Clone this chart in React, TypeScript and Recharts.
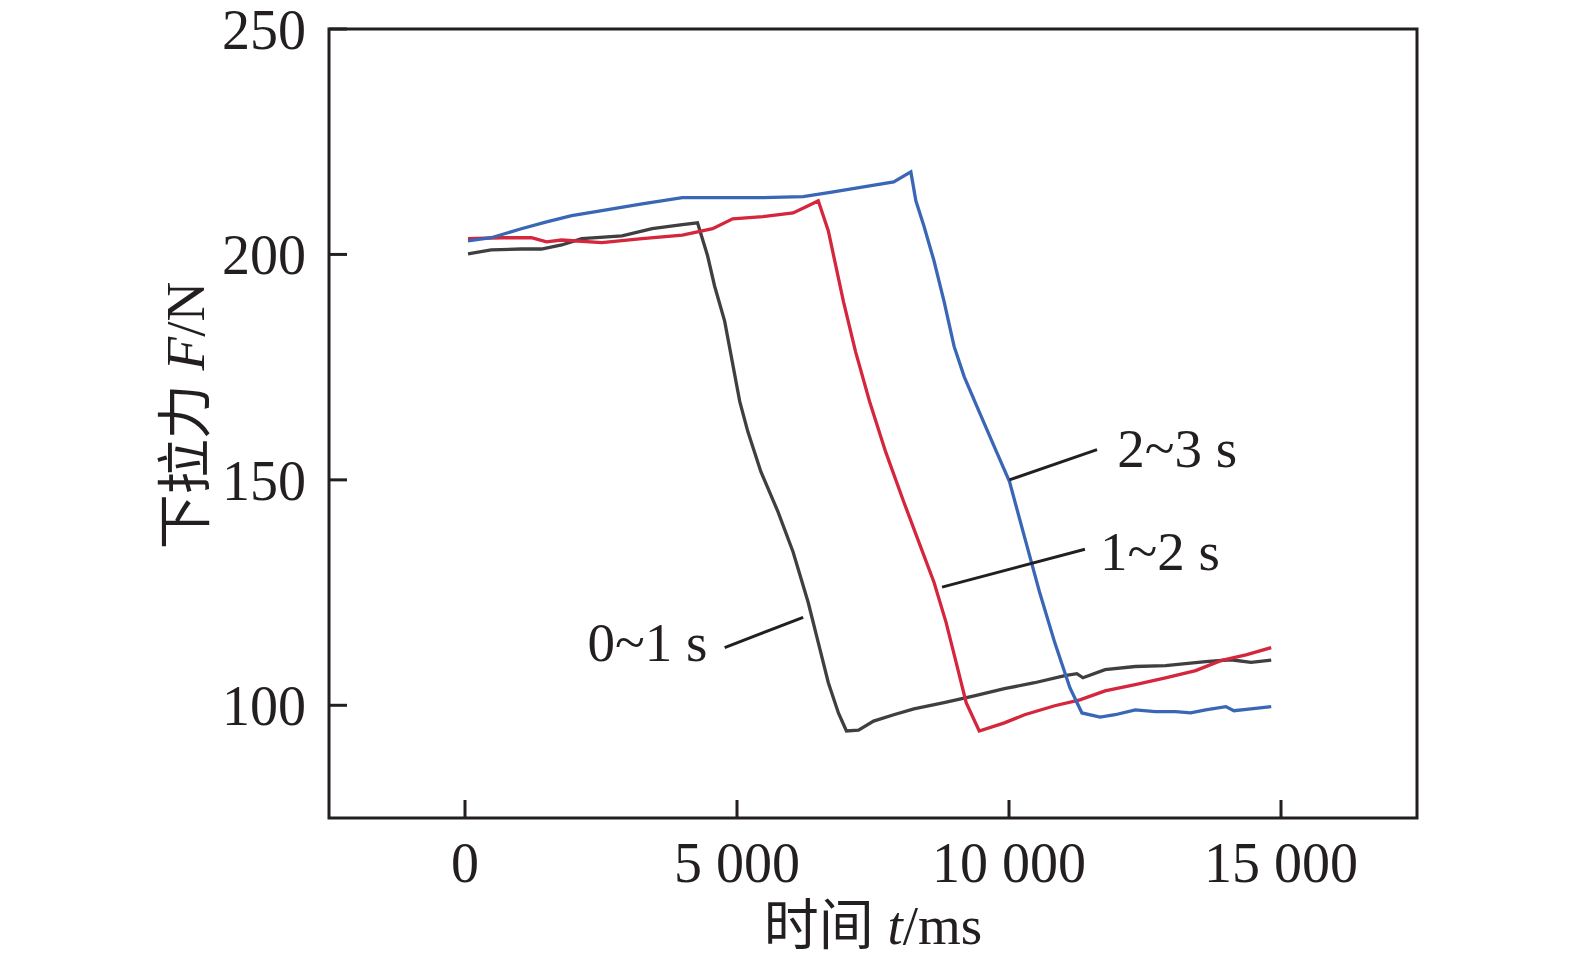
import React from "react";
import {
  LineChart,
  Line,
  XAxis,
  YAxis,
  ReferenceArea,
  ReferenceLine,
  ReferenceDot,
  Label,
} from "recharts";

// values (t in ms, F in N)
const grayT = [55, 481, 1036, 1406, 1776, 2146, 2886, 3441, 3996, 4274, 4459, 4588, 4773, 5050, 5199, 5439, 5754, 6031, 6309, 6494, 6679, 6864, 7012, 7234, 7511, 7881, 8251, 8806, 9361, 9916, 10471, 11026, 11248, 11359, 11766, 12321, 12876, 13616, 14079, 14449, 14820];
const grayF = [200.1, 201.0, 201.2, 201.2, 202.1, 203.5, 204.1, 205.7, 206.6, 207.0, 199.7, 193.0, 185.2, 167.4, 160.7, 151.8, 142.9, 134.0, 122.8, 113.9, 105.0, 98.3, 94.3, 94.5, 96.5, 97.9, 99.2, 100.6, 102.1, 103.7, 105.0, 106.6, 107.0, 106.1, 107.9, 108.6, 108.8, 109.7, 110.1, 109.5, 110.0];

const redT = [55, 666, 1221, 1499, 1776, 2516, 3256, 3996, 4551, 4921, 5476, 6031, 6309, 6494, 6679, 6956, 7178, 7437, 7733, 8066, 8343, 8621, 8843, 9028, 9213, 9453, 9916, 10286, 10840, 11303, 11766, 12321, 12876, 13431, 13893, 14356, 14820];
const redF = [203.5, 203.7, 203.7, 202.8, 203.2, 202.6, 203.5, 204.3, 205.7, 207.9, 208.4, 209.2, 210.8, 211.9, 205.2, 189.6, 178.5, 167.4, 156.2, 145.1, 136.2, 127.3, 118.4, 109.5, 100.6, 94.3, 96.1, 97.9, 99.9, 101.2, 103.2, 104.6, 106.1, 107.7, 109.9, 111.2, 112.8];

const blueT = [55, 481, 1036, 1499, 1961, 2516, 3256, 3996, 4736, 5476, 6216, 6771, 7326, 7881, 8196, 8288, 8436, 8621, 8806, 8991, 9176, 9453, 9731, 10009, 10286, 10564, 10841, 11119, 11341, 11674, 11951, 12321, 12691, 13061, 13339, 13616, 13986, 14134, 14449, 14820];
const blueF = [203.0, 203.7, 205.7, 207.2, 208.6, 209.7, 211.2, 212.6, 212.6, 212.6, 212.8, 213.9, 215.0, 216.1, 218.3, 211.9, 206.3, 198.6, 189.6, 179.6, 172.9, 165.1, 157.3, 149.6, 137.3, 125.0, 113.9, 103.9, 98.3, 97.4, 97.9, 99.0, 98.6, 98.6, 98.3, 99.0, 99.7, 98.8, 99.2, 99.7];

const xTicks = [0, 5000, 10000, 15000];
const yTicks = [100, 150, 200, 250];

// annotation: leader line start/end and text anchor
const notes = [
  { text: "2~3 s", x1: 10008, y1: 150.0, x2: 11618, y2: 156.7, tx: 11990, ty: 156.9, anchor: "start" },
  { text: "1~2 s", x1: 8769, y1: 126.2, x2: 11396, y2: 134.6, tx: 11673, ty: 134.0, anchor: "start" },
  { text: "0~1 s", x1: 4773, y1: 112.8, x2: 6216, y2: 119.5, tx: 4458, ty: 113.9, anchor: "end" },
];

const zip = (t: number[], f: number[]) => t.map((v, i) => ({ t: v, f: f[i] }));
const grayData = zip(grayT, grayF);
const redData = zip(redT, redF);
const blueData = zip(blueT, blueF);

const FONT = "'Liberation Serif', 'Times New Roman', 'Noto Sans CJK SC', serif";
const INK = "#231f20";

const fmt = (v: number) => (v >= 1000 ? `${Math.floor(v / 1000)} ${String(v % 1000).padStart(3, "0")}` : String(v));

const YTick = (props: any) => {
  const { x, y, payload } = props;
  return (
    <g>
      <line x1={x} x2={x + 18} y1={y} y2={y} stroke={INK} strokeWidth={3} />
      <text x={x - 23} y={y + 1} textAnchor="end" dominantBaseline="central" fontFamily={FONT} fontSize={56} fill={INK}>
        {fmt(payload.value)}
      </text>
    </g>
  );
};

const XTick = (props: any) => {
  const { x, y, payload } = props;
  return (
    <g>
      <line x1={x} x2={x} y1={y} y2={y - 18} stroke={INK} strokeWidth={3} />
      <text x={x} y={y + 45} textAnchor="middle" dominantBaseline="central" fontFamily={FONT} fontSize={56} fill={INK}>
        {fmt(payload.value)}
      </text>
    </g>
  );
};

export default function App() {
  return (
    // cancel the body margin so the chart covers the whole window
    <div style={{ margin: -8, background: "#fff" }}>
      <LineChart
        width={1575}
        height={962}
        margin={{ top: 29, right: 158, bottom: 0, left: 0 }}
      >
        <XAxis
          type="number"
          dataKey="t"
          domain={[-2500, 17500]}
          ticks={xTicks}
          interval={0}
          allowDataOverflow
          axisLine={false}
          tickLine={false}
          tickSize={0}
          tickMargin={0}
          height={144}
          tick={<XTick />}
        >
          <Label
            content={(p: any) => {
              const vb = p.viewBox;
              return (
                <text x={vb.x + vb.width / 2} y={vb.y + 107} textAnchor="middle" dominantBaseline="central" fontFamily={FONT} fontSize={55} fill={INK}>
                  时间 <tspan fontStyle="italic">t</tspan>/ms
                </text>
              );
            }}
          />
        </XAxis>
        <YAxis
          type="number"
          domain={[75, 250]}
          ticks={yTicks}
          interval={0}
          allowDataOverflow
          axisLine={false}
          tickLine={false}
          tickSize={0}
          tickMargin={0}
          width={329}
          tick={<YTick />}
        >
          <Label
            content={(p: any) => {
              const vb = p.viewBox;
              const cx = 185;
              const cy = vb.y + vb.height / 2 - 8;
              return (
                <text x={cx} y={cy} transform={`rotate(-90 ${cx} ${cy})`} textAnchor="middle" dominantBaseline="central" fontFamily={FONT} fontSize={55} fill={INK}>
                  下拉力 <tspan fontStyle="italic">F</tspan>/N
                </text>
              );
            }}
          />
        </YAxis>
        <ReferenceArea x1={-2500} x2={17500} y1={75} y2={250} fill="none" stroke={INK} strokeWidth={3} ifOverflow="visible" />
        <Line data={grayData} dataKey="f" stroke="#3f3f41" strokeWidth={3.3} dot={false} isAnimationActive={false} />
        <Line data={redData} dataKey="f" stroke="#d4263c" strokeWidth={3.3} dot={false} isAnimationActive={false} />
        <Line data={blueData} dataKey="f" stroke="#3a66b6" strokeWidth={3.3} dot={false} isAnimationActive={false} />
        {notes.map((n) => (
          <ReferenceLine
            key={n.text + "-line"}
            segment={[{ x: n.x1, y: n.y1 }, { x: n.x2, y: n.y2 }]}
            stroke={INK}
            strokeWidth={3}
          />
        ))}
        {notes.map((n) => (
          <ReferenceDot
            key={n.text}
            x={n.tx}
            y={n.ty}
            r={0}
            fill="none"
            stroke="none"
            label={{
              content: (p: any) => (
                <text x={p.viewBox.x} y={p.viewBox.y} textAnchor={n.anchor} dominantBaseline="central" fontFamily={FONT} fontSize={55} fill={INK}>
                  {n.text}
                </text>
              ),
            }}
          />
        ))}
      </LineChart>
    </div>
  );
}
